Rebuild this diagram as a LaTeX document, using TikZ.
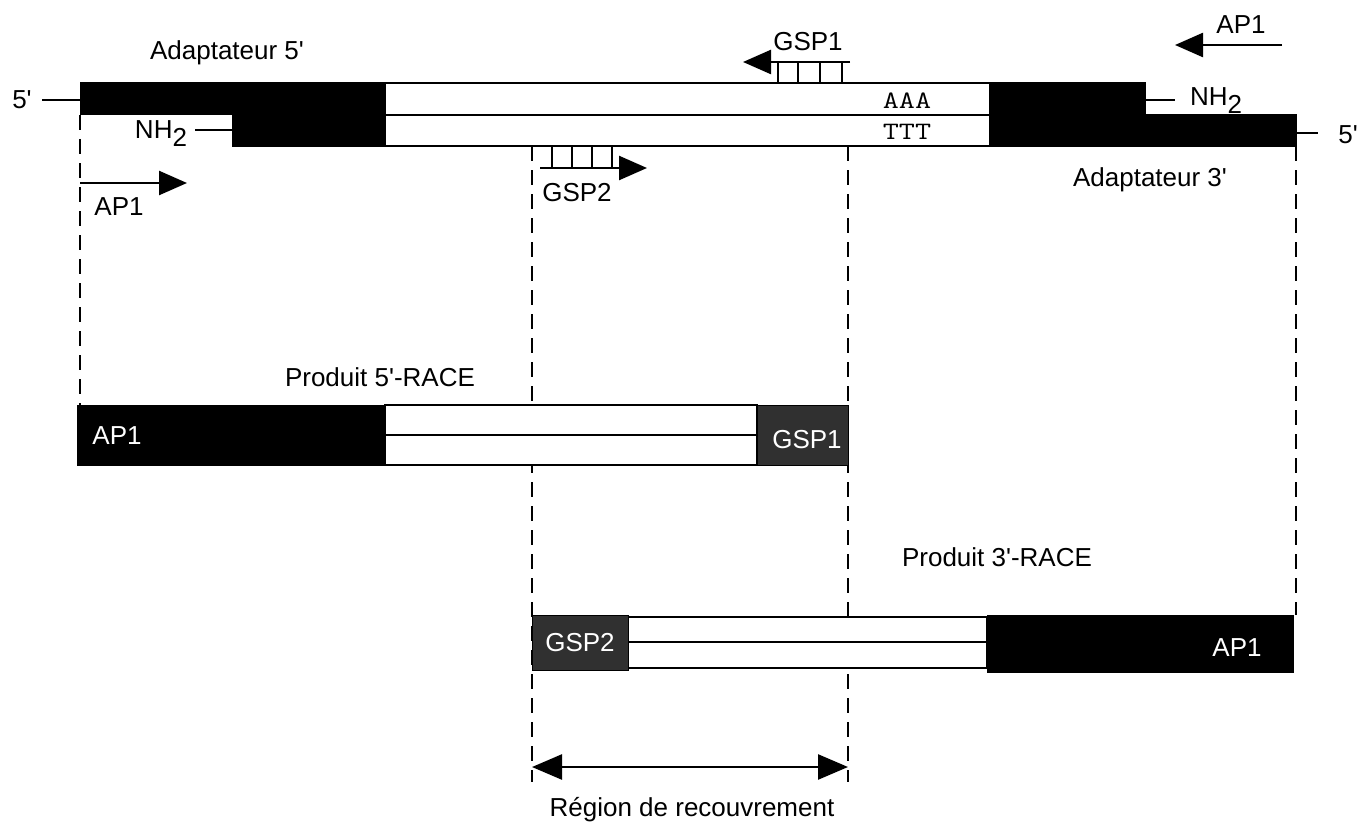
\documentclass[tikz,border=0pt]{standalone}
\usepackage{fontspec}
\setmainfont[Ligatures=TeXOff]{Liberation Sans}
\usetikzlibrary{arrows.meta}
\definecolor{gsp}{RGB}{48,48,48}
\newcommand{\monotxt}[1]{\scalebox{1.25}[1]{\ttfamily #1}}
\begin{document}
\begin{tikzpicture}[x=1pt,y=-1pt,
  lbl/.style={font=\fontsize{26}{30}\selectfont, inner sep=0pt},
  wlbl/.style={lbl, text=white},
  mono/.style={font=\fontsize{25}{28}\selectfont, inner sep=0pt},
  strand/.style={draw=black, line width=2.5pt, fill=white},
  blk/.style={fill=black, draw=black, line width=1pt},
  gry/.style={fill=gsp, draw=black, line width=1pt},
  guide/.style={line width=2.8pt, dash pattern=on 15pt off 9pt},
  tline/.style={line width=2.5pt},
  arr/.style={line width=2.5pt, -{Triangle[length=28pt,width=24pt]}},
  dblarr/.style={line width=2.5pt, {Triangle[length=30pt,width=25pt]}-{Triangle[length=30pt,width=25pt]}},
]
\useasboundingbox (0,0) rectangle (1362,824);

% key coordinates
\coordinate (gA1) at (80,115);   \coordinate (gA2) at (80,405);
\coordinate (gB1) at (532,146);  \coordinate (gB2) at (532,782);
\coordinate (gC1) at (848,146);  \coordinate (gC2) at (848,782);
\coordinate (gD1) at (1296,146); \coordinate (gD2) at (1296,615);

% dashed guide lines
\draw[guide] (gA1) -- (gA2);
\draw[guide] (gB1) -- (gB2);
\draw[guide] (gC1) -- (gC2);
\draw[guide] (gD1) -- (gD2);

% ---------- top duplex ----------
\draw[strand] (385,83) rectangle (990,146);
\draw[tline] (385,115) -- (990,115);
\fill[blk] (80,83) -- (385,83) -- (385,146) -- (232,146) -- (232,115) -- (80,115) -- cycle;
\fill[blk] (990,83) -- (1145,83) -- (1145,115) -- (1296,115) -- (1296,146) -- (990,146) -- cycle;

\node[mono] (aaa) at (907,101) {\monotxt{AAA}};
\node[mono] (ttt) at (907,132) {\monotxt{TTT}};

% ends
\coordinate (l5a) at (42,100); \coordinate (l5b) at (80,100);
\draw[tline] (l5a) -- (l5b);
\node[lbl] (l5) at (22,100) {5'};
\coordinate (lna) at (195,130); \coordinate (lnb) at (232,130);
\draw[tline] (lna) -- (lnb);
\node[lbl] (lnh) at (161,134) {NH\raisebox{-8pt}{2}};
\coordinate (rna) at (1145,100); \coordinate (rnb) at (1175,100);
\draw[tline] (rna) -- (rnb);
\node[lbl] (rnh) at (1216,101) {NH\raisebox{-8pt}{2}};
\coordinate (r5a) at (1296,133); \coordinate (r5b) at (1318,133);
\draw[tline] (r5a) -- (r5b);
\node[lbl] (r5) at (1348,135) {5'};

% GSP1 primer
\coordinate (g1s) at (850,62); \coordinate (g1e) at (743,62);
\draw[arr] (g1s) -- (g1e);
\foreach \x in {778,798,820,842} \draw[tline] (\x,62) -- (\x,83);
\node[lbl] (gsp1) at (808,42) {GSP1};

% GSP2 primer
\coordinate (g2s) at (540,168); \coordinate (g2e) at (647,168);
\draw[arr] (g2s) -- (g2e);
\foreach \x in {552,572,592,612} \draw[tline] (\x,146) -- (\x,168);
\node[lbl] (gsp2) at (577,193) {GSP2};

% AP1 primers
\coordinate (a1s) at (80,183); \coordinate (a1e) at (187,183);
\draw[arr] (a1s) -- (a1e);
\node[lbl] (ap1l) at (119,207) {AP1};
\coordinate (a2s) at (1282,45); \coordinate (a2e) at (1175,45);
\draw[arr] (a2s) -- (a2e);
\node[lbl] (ap1r) at (1241,25) {AP1};

\node[lbl] (ad5) at (227,53) {Adaptateur 5'};
\node[lbl] (ad3) at (1150,180) {Adaptateur 3'};

% ---------- 5'-RACE product ----------
\node[lbl] (p5) at (380,377) {Produit 5'-RACE};
\draw[strand] (385,405) rectangle (757,465);
\draw[tline] (385,435) -- (757,435);
\fill[blk] (77,405) rectangle (385,465);
\fill[gry] (757,405) rectangle (848,465);
\node[wlbl] (p5ap1) at (117,436) {AP1};
\node[wlbl] (p5gsp1) at (807,440) {GSP1};

% ---------- 3'-RACE product ----------
\node[lbl] (p3) at (997,557) {Produit 3'-RACE};
\draw[strand] (628,617) rectangle (987,668);
\draw[tline] (628,642) -- (987,642);
\fill[gry] (532,615) rectangle (628,670);
\fill[blk] (987,615) rectangle (1293,672);
\node[wlbl] (p3gsp2) at (580,643) {GSP2};
\node[wlbl] (p3ap1) at (1237,648) {AP1};

% ---------- overlap region ----------
\coordinate (ovl) at (532,767); \coordinate (ovr) at (848,767);
\draw[dblarr] (ovl) -- (ovr);
\node[lbl] (reg) at (692,810) {Région de recouvrement};
\end{tikzpicture}
\end{document}
